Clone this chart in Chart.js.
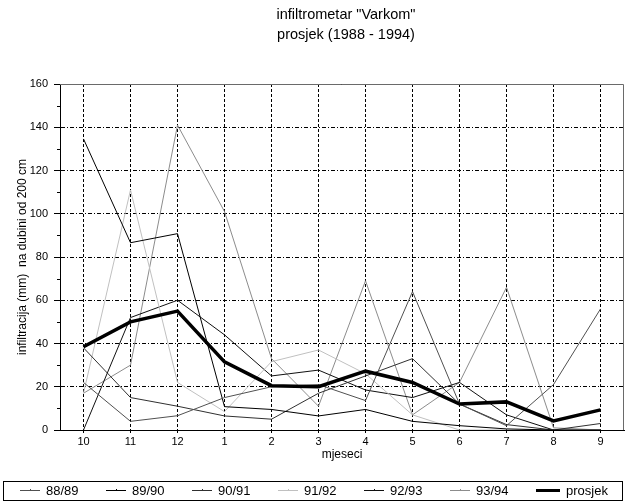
<!DOCTYPE html>
<html>
<head>
<meta charset="utf-8">
<script src="https://cdn.jsdelivr.net/npm/chart.js@4.4.0/dist/chart.umd.min.js"></script>
<style>
  html, body { margin: 0; padding: 0; background: #fff; }
</style>
</head>
<body>
<canvas id="myChart" width="627" height="502"></canvas>
<script>
const months = ['10', '11', '12', '1', '2', '3', '4', '5', '6', '7', '8', '9'];

const s8889 = [22, 4, 6.6, 15, 20, 21, 13.6, 64, 12, 2, 21, 56];
const s8990 = [134.6, 86.6, 90.8, 10.8, 9.5, 6.5, 9.5, 4, 2, 0.5, 0, 0];
const s9091 = [38, 15, 11, 6.5, 5, 17, 25, 33, 12, 2.5, 0, 3];
const s9192 = [17, 111, 22, 8.5, 31.6, 37, 26, 7, 0, 0, 0, 0];
const s9293 = [0, 52, 60, 44, 25, 27.7, 18.5, 15, 22, 7, 0, 0];
const s9394 = [17, 30, 141, 101, 33, 11, 69, 7, 22, 66, 1, 0];
const prosjek = [38.5, 50, 55, 31.5, 20.5, 20, 27.2, 22, 12, 13, 4.2, 9.3];

const seriesNames = ['88/89', '89/90', '90/91', '91/92', '92/93', '93/94', 'prosjek'];
const seriesColors = ['#505050', '#000000', '#303030', '#c0c0c0', '#101010', '#8c8c8c', '#000000'];

const yTicks = [0, 20, 40, 60, 80, 100, 120, 140, 160];
const titleLines = ['infiltrometar "Varkom"', 'prosjek (1988 - 1994)'];

const FONT = "'Liberation Sans', Arial, sans-serif";

// two-line heading, centred a little right of the plot middle like the original
const titlePlugin = {
    id: 'heading',
    afterDraw(chart) {
        const ctx = chart.ctx;
        const a = chart.chartArea;
        const cx = (a.left + a.right) / 2 + 4;
        ctx.save();
        ctx.font = '14.5px ' + FONT;
        ctx.fillStyle = '#000';
        ctx.textAlign = 'center';
        ctx.textBaseline = 'middle';
        ctx.fillText(titleLines[0], cx, 15);
        ctx.fillText(titleLines[1], cx, 35);
        ctx.restore();
    }
};

const framePlugin = {
    id: 'frame',
    afterDraw(chart) {
        const ctx = chart.ctx;
        const a = chart.chartArea;
        const y = chart.scales.y;
        ctx.save();
        ctx.setLineDash([]);
        // top and right edge of the plot
        ctx.strokeStyle = '#6a6a6a';
        ctx.lineWidth = 1;
        ctx.beginPath();
        ctx.moveTo(a.left, a.top + 0.5);
        ctx.lineTo(a.right - 0.5, a.top + 0.5);
        ctx.lineTo(a.right - 0.5, a.bottom);
        ctx.stroke();
        // minor ticks on the y axis
        ctx.strokeStyle = '#000';
        ctx.beginPath();
        for (let v = 10; v < 160; v += 20) {
            const py = Math.round(y.getPixelForValue(v)) + 0.5;
            ctx.moveTo(a.left - 3, py);
            ctx.lineTo(a.left, py);
        }
        ctx.stroke();
        ctx.restore();
    }
};

const legendPlugin = {
    id: 'boxLegend',
    afterDraw(chart) {
        const ctx = chart.ctx;
        const top = 481, bottom = 500, left = 3, right = 622;
        const midY = 490.5;
        ctx.save();
        ctx.setLineDash([]);
        ctx.strokeStyle = '#000';
        ctx.lineWidth = 1;
        ctx.strokeRect(left + 0.5, top + 0.5, right - left, bottom - top);
        ctx.font = '13px ' + FONT;
        ctx.textBaseline = 'middle';
        ctx.fillStyle = '#000';
        chart.data.datasets.forEach((ds, i) => {
            const x0 = 20 + i * 86;
            const len = i === 6 ? 24 : 20;
            ctx.strokeStyle = ds.borderColor;
            ctx.lineWidth = i === 6 ? 3 : 1;
            ctx.beginPath();
            ctx.moveTo(x0, midY);
            ctx.lineTo(x0 + len, midY);
            ctx.stroke();
            if (i !== 6) {
                ctx.beginPath();
                ctx.moveTo(x0 + len / 2 + 0.5, midY - 1.5);
                ctx.lineTo(x0 + len / 2 + 0.5, midY);
                ctx.stroke();
            }
            ctx.fillStyle = '#000';
            ctx.fillText(ds.label, x0 + len + 6, midY + 1);
        });
        ctx.restore();
    }
};

const allSeries = [s8889, s8990, s9091, s9192, s9293, s9394, prosjek];

const chartInstance = new Chart(document.getElementById('myChart').getContext('2d'), {
    type: 'line',
    data: {
        labels: months,
        datasets: allSeries.map((d, i) => ({
            label: seriesNames[i],
            data: d,
            borderColor: seriesColors[i],
            backgroundColor: seriesColors[i],
            borderWidth: i === 6 ? 3.5 : 1,
            pointRadius: 0,
            tension: 0,
            fill: false,
            order: i === 6 ? -1 : i
        }))
    },
    options: {
        responsive: false,
        animation: false,
        devicePixelRatio: 1,
        layout: {
            padding: { left: 0, right: 3, top: 84, bottom: 0 }
        },
        scales: {
            x: {
                type: 'category',
                offset: true,
                grid: {
                    offset: false,
                    color: '#000',
                    lineWidth: 1,
                    tickLength: 4,
                    tickBorderDash: [2, 1]
                },
                border: { display: true, color: '#000', width: 1, dash: [3, 2] },
                ticks: {
                    color: '#000',
                    padding: 1,
                    maxRotation: 0,
                    autoSkip: false,
                    font: { family: FONT, size: 11 }
                },
                title: {
                    display: true,
                    text: 'mjeseci',
                    color: '#000',
                    font: { family: FONT, size: 12 },
                    padding: { top: 0, bottom: 40 }
                },
                afterFit(scale) { scale.height = 72; }
            },
            y: {
                min: 0,
                max: 160,
                afterBuildTicks(scale) { scale.ticks = yTicks.map(v => ({ value: v })); },
                grid: {
                    color: '#000',
                    lineWidth: 1,
                    tickLength: 6,
                    tickBorderDash: []
                },
                border: { display: true, color: '#000', width: 1, dash: [4, 2, 1, 2] },
                ticks: {
                    color: '#000',
                    padding: 6,
                    font: { family: FONT, size: 11 }
                },
                title: {
                    display: true,
                    text: 'infiltracija (mm)  na dubini od 200 cm',
                    color: '#000',
                    font: { family: FONT, size: 12 },
                    padding: { top: 15, bottom: 0 }
                },
                afterFit(scale) { scale.width = 60; }
            }
        },
        plugins: {
            legend: { display: false },
            tooltip: { enabled: false },
            title: { display: false }
        }
    },
    plugins: [titlePlugin, framePlugin, legendPlugin]
});
</script>
</body>
</html>
